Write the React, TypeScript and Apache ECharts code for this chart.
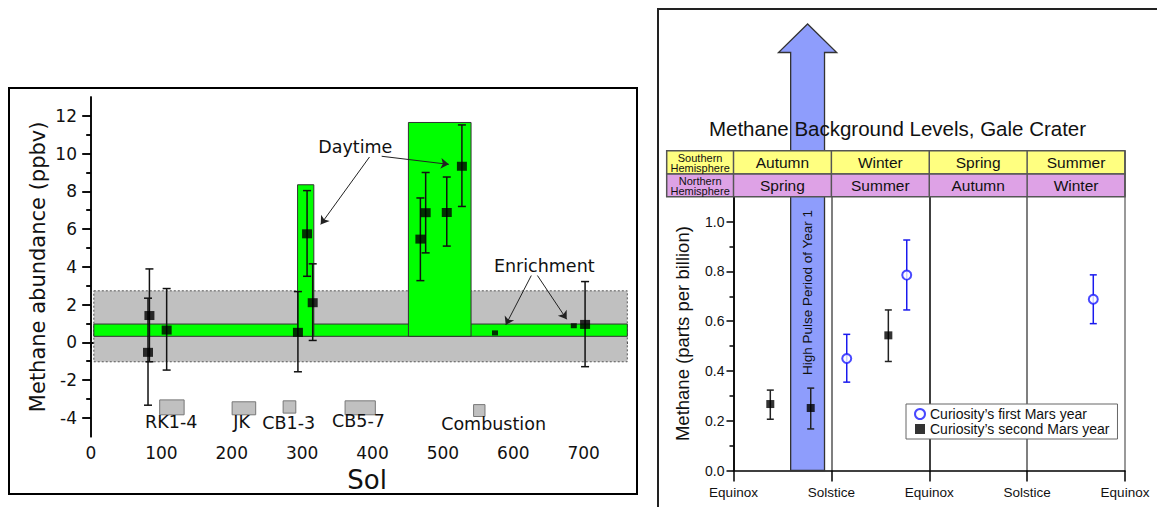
import React, { useEffect, useRef } from 'react';
import * as echarts from 'echarts';

// ---------------- Left panel data (Sol vs methane ppbv) ----------------
const solPoints = [81, 83, 107.5, 294, 307, 315, 468, 475.5, 505.5, 527, 702];
const ppbv = [-0.53, 1.42, 0.65, 0.53, 5.75, 2.1, 5.47, 6.87, 6.88, 9.33, 0.95];
const ppbvLow = [-3.33, -1.03, -1.47, -1.56, 3.5, 0.1, 3.27, 4.74, 5.1, 7.2, -1.29];
const ppbvHigh = [2.34, 3.89, 2.85, 2.69, 8.04, 4.16, 7.65, 9.0, 8.76, 11.52, 3.22];
const enrichSol = [574, 686];
const enrichPpbv = [0.5, 0.88];
const backgroundBand = [[4, 762, 0.32, 0.97]];
const uncertaintyBand = [[4, 762, -1.03, 2.73]];
const spikeBoxes = [[293.5, 316.6, 0.32, 8.35], [451, 540, 0.32, 11.65]];
const runBoxes = [
  [97.6, 132.3, -3.84, -3.05],
  [200.5, 234, -3.84, -3.15],
  [273, 291, -3.75, -3.1],
  [361, 404, -3.84, -3.1],
  [543.6, 559.8, -3.93, -3.3],
];
const annotTexts = ['RK1-4', 'JK', 'CB1-3', 'CB5-7', 'Combustion', 'Daytime', 'Enrichment'];
const annotX = [114, 214, 281, 380, 572, 375.5, 644];
const annotY = [-4.22, -4.22, -4.25, -4.18, -4.35, 10.35, 4.04];
const arrowLines = [
  [395.7, 9.82, 326.4, 6.25],
  [413, 9.86, 508.4, 9.43],
  [625.6, 3.54, 589.3, 0.92],
  [634.3, 3.54, 675.9, 1.22],
];
const leftXMajor = [0, 100, 200, 300, 400, 500, 600, 700];
const leftXMinor = [50, 150, 250, 350, 450, 550, 650, 750];
const leftYMajor = [-4, -2, 0, 2, 4, 6, 8, 10, 12];
const leftYMinor = [-3, -1, 1, 3, 5, 7, 9, 11];

// ---------------- Right panel data (season vs methane ppb) ----------------
const seasonTicks = ['Equinox', 'Solstice', 'Equinox', 'Solstice', 'Equinox'];
const southSeasons = ['Autumn', 'Winter', 'Spring', 'Summer'];
const northSeasons = ['Spring', 'Summer', 'Autumn', 'Winter'];
const year1X = [1.157, 1.77, 3.676];
const year1Y = [0.45, 0.785, 0.688];
const year1Low = [0.355, 0.645, 0.59];
const year1High = [0.547, 0.926, 0.786];
const year2X = [0.376, 0.789, 1.582];
const year2Y = [0.267, 0.251, 0.543];
const year2Low = [0.206, 0.167, 0.438];
const year2High = [0.323, 0.331, 0.645];
const pulsePeriod = [[0.584, 0.93]];
const pulseLabelY = 0.715;
const rightYMajor = [0, 0.2, 0.4, 0.6, 0.8, 1.0];
const rightYMinor = [0.1, 0.3, 0.5, 0.7, 0.9];

const LF = 'DejaVu Sans';
const RF = 'Liberation Sans, Arial, sans-serif';

// layout
const G1 = { left: 91, top: 97, width: 536.3, height: 339.7 };
const G2 = { left: 733.5, top: 196.7, width: 391.5, height: 273.8 };

function rectRender(fill: string, stroke: string, lineWidth: number, dash?: number[]) {
  return (params: any, api: any) => {
    const p0 = api.coord([api.value(0), api.value(3)]);
    const p1 = api.coord([api.value(1), api.value(2)]);
    return {
      type: 'rect',
      shape: { x: p0[0], y: p0[1], width: p1[0] - p0[0], height: p1[1] - p0[1] },
      style: { fill, stroke, lineWidth, lineDash: dash },
    };
  };
}

function errRender(stroke: string, lineWidth: number, cap: number) {
  return (params: any, api: any) => {
    const x = api.value(0);
    const lo = api.coord([x, api.value(1)]);
    const hi = api.coord([x, api.value(2)]);
    const st = { stroke, lineWidth };
    return {
      type: 'group',
      children: [
        { type: 'line', shape: { x1: lo[0], y1: lo[1], x2: hi[0], y2: hi[1] }, style: st },
        { type: 'line', shape: { x1: lo[0] - cap, y1: lo[1], x2: lo[0] + cap, y2: lo[1] }, style: st },
        { type: 'line', shape: { x1: hi[0] - cap, y1: hi[1], x2: hi[0] + cap, y2: hi[1] }, style: st },
      ],
    };
  };
}

function makeOption() {
  const black = '#000';
  const axisLine = { show: true, lineStyle: { color: black, width: 1.5 } };
  const noLabel = { show: false };

  const xAxis: any[] = [
    {
      gridIndex: 0, type: 'value', min: 0, max: 762, position: 'bottom',
      axisLine,
      axisTick: { show: true, length: 5, customValues: leftXMajor, lineStyle: { color: black, width: 1.5 } },
      axisLabel: { customValues: leftXMajor, fontFamily: LF, fontSize: 17, color: '#111', margin: 8 },
      splitLine: { show: false },
      name: 'Sol', nameLocation: 'middle', nameGap: 27,
      nameTextStyle: { fontFamily: LF, fontSize: 26, color: '#111', padding: [0, 0, 0, 16] },
    },
    {
      gridIndex: 0, type: 'value', min: 0, max: 762, position: 'bottom',
      axisLine: { show: false },
      axisTick: { show: true, length: 3, customValues: leftXMinor, lineStyle: { color: black, width: 1.5 } },
      axisLabel: noLabel, splitLine: { show: false },
    },
    {
      gridIndex: 0, type: 'value', min: 0, max: 762, position: 'top',
      axisLine,
      axisTick: { show: true, inside: true, length: 6, customValues: leftXMajor, lineStyle: { color: black, width: 1.5 } },
      axisLabel: noLabel, splitLine: { show: false },
    },
    {
      gridIndex: 0, type: 'value', min: 0, max: 762, position: 'top',
      axisLine: { show: false },
      axisTick: { show: true, inside: true, length: 3, customValues: leftXMinor, lineStyle: { color: black, width: 1.5 } },
      axisLabel: noLabel, splitLine: { show: false },
    },
    {
      gridIndex: 1, type: 'value', min: 0, max: 4, position: 'bottom',
      axisLine,
      axisTick: { show: true, length: 11, customValues: [0, 1, 2, 3, 4], lineStyle: { color: black, width: 1.5 } },
      axisLabel: {
        customValues: [0, 1, 2, 3, 4],
        formatter: (v: number) => seasonTicks[Math.round(v)] ?? '',
        fontFamily: RF, fontSize: 13.5, color: '#111', margin: 15,
      },
      splitLine: { show: true, lineStyle: { color: ['#000', '#555', '#000', '#555', '#777'], width: 1.5 } },
    },
  ];

  const yAxis: any[] = [
    {
      gridIndex: 0, type: 'value', min: -5, max: 13, position: 'left',
      axisLine,
      axisTick: { show: true, length: 8, customValues: leftYMajor, lineStyle: { color: black, width: 1.5 } },
      axisLabel: { customValues: leftYMajor, fontFamily: LF, fontSize: 17, color: '#111', margin: 14 },
      splitLine: { show: false },
      name: 'Methane abundance (ppbv)', nameLocation: 'middle', nameGap: 43,
      nameTextStyle: { fontFamily: LF, fontSize: 21, color: '#111', padding: [0, 0, 0, 0] },
    },
    {
      gridIndex: 0, type: 'value', min: -5, max: 13, position: 'left',
      axisLine: { show: false },
      axisTick: { show: true, length: 4, customValues: leftYMinor, lineStyle: { color: black, width: 1.5 } },
      axisLabel: noLabel, splitLine: { show: false },
    },
    {
      gridIndex: 0, type: 'value', min: -5, max: 13, position: 'right',
      axisLine,
      axisTick: { show: true, inside: true, length: 9, customValues: leftYMajor, lineStyle: { color: black, width: 1.5 } },
      axisLabel: noLabel, splitLine: { show: false },
    },
    {
      gridIndex: 0, type: 'value', min: -5, max: 13, position: 'right',
      axisLine: { show: false },
      axisTick: { show: true, inside: true, length: 5, customValues: leftYMinor, lineStyle: { color: black, width: 1.5 } },
      axisLabel: noLabel, splitLine: { show: false },
    },
    {
      gridIndex: 1, type: 'value', min: 0, max: 1.1, position: 'left',
      axisLine,
      axisTick: { show: true, length: 7, customValues: rightYMajor, lineStyle: { color: black, width: 1.5 } },
      axisLabel: {
        customValues: rightYMajor, formatter: (v: number) => v.toFixed(1),
        fontFamily: RF, fontSize: 14, color: '#111', margin: 9,
      },
      splitLine: { show: false },
      name: 'Methane (parts per billion)', nameLocation: 'middle', nameGap: 42,
      nameTextStyle: { fontFamily: RF, fontSize: 18.5, color: '#111' },
    },
    {
      gridIndex: 1, type: 'value', min: 0, max: 1.1, position: 'left',
      axisLine: { show: false },
      axisTick: { show: true, length: 4, customValues: rightYMinor, lineStyle: { color: black, width: 1.5 } },
      axisLabel: noLabel, splitLine: { show: false },
    },
  ];

  const L = { xAxisIndex: 0, yAxisIndex: 0 };
  const R = { xAxisIndex: 4, yAxisIndex: 4 };

  const series: any[] = [
    {
      type: 'custom', name: 'uncertainty', ...L, z: 1, silent: true,
      encode: { x: [0, 1], y: [2, 3] },
      data: uncertaintyBand,
      renderItem: rectRender('#c0c0c0', '#555', 1, [2, 2]),
    },
    {
      type: 'custom', name: 'background', ...L, z: 2, silent: true,
      encode: { x: [0, 1], y: [2, 3] },
      data: backgroundBand,
      renderItem: rectRender('#00ff00', '#333', 1),
    },
    {
      type: 'custom', name: 'spikes', ...L, z: 3, silent: true,
      encode: { x: [0, 1], y: [2, 3] },
      data: spikeBoxes,
      renderItem: rectRender('#00ff00', '#333', 1),
    },
    {
      type: 'custom', name: 'runs', ...L, z: 3, silent: true,
      encode: { x: [0, 1], y: [2, 3] },
      data: runBoxes,
      renderItem: rectRender('#c0c0c0', '#777', 1),
    },
    {
      type: 'custom', name: 'errLeft', ...L, z: 4, silent: true,
      encode: { x: 0, y: [1, 2] },
      data: solPoints.map((s, i) => [s, ppbvLow[i], ppbvHigh[i]]),
      renderItem: errRender('#111', 1.5, 4),
    },
    {
      type: 'scatter', name: 'measurements', ...L, z: 5, silent: true,
      symbol: 'rect', symbolSize: [10, 9],
      itemStyle: { color: '#000' },
      data: solPoints.map((s, i) => [s, ppbv[i]]),
    },
    {
      type: 'scatter', name: 'enrichment', ...L, z: 5, silent: true,
      symbol: 'rect', symbolSize: [6, 5],
      itemStyle: { color: '#000' },
      data: enrichSol.map((s, i) => [s, enrichPpbv[i]]),
      markLine: {
        silent: true, symbol: ['none', 'arrow'], symbolSize: 8, animation: false,
        lineStyle: { color: '#222', width: 1, type: 'solid' },
        label: { show: false },
        emphasis: { disabled: true },
        data: arrowLines.map((a) => [{ coord: [a[0], a[1]] }, { coord: [a[2], a[3]] }]),
      },
    },
    {
      type: 'custom', name: 'annotations', ...L, z: 6, silent: true,
      encode: { x: 0, y: 1 },
      data: annotX.map((x, i) => [x, annotY[i]]),
      renderItem: (params: any, api: any) => {
        const p = api.coord([api.value(0), api.value(1)]);
        return {
          type: 'text', x: p[0], y: p[1],
          style: {
            text: annotTexts[params.dataIndex], fontFamily: LF, fontSize: 17.5, fill: '#111',
            align: 'center', verticalAlign: 'middle',
          },
        };
      },
    },
    // ---------- right panel ----------
    {
      type: 'custom', name: 'pulse', ...R, z: 1, silent: true, clip: false,
      encode: { x: [0, 1] },
      data: pulsePeriod,
      renderItem: (params: any, api: any) => {
        const a = api.coord([api.value(0), 0]);
        const b = api.coord([api.value(1), 0]);
        const t = api.coord([api.value(0), pulseLabelY]);
        const headBase = 52.5;
        const tip = 24;
        const ext = 12.2;
        const cx = (a[0] + b[0]) / 2;
        return {
          type: 'group',
          children: [
            {
              type: 'polygon',
              shape: {
                points: [
                  [a[0], a[1]], [a[0], headBase], [a[0] - ext, headBase], [cx, tip],
                  [b[0] + ext, headBase], [b[0], headBase], [b[0], b[1]],
                ],
              },
              style: { fill: '#8e9dfc', stroke: '#333', lineWidth: 1.3 },
            },
            {
              type: 'text', x: cx, y: t[1], rotation: Math.PI / 2,
              style: {
                text: 'High Pulse Period of Year 1', fontFamily: RF, fontSize: 13.5, fill: '#111',
                align: 'center', verticalAlign: 'middle',
              },
            },
          ],
        };
      },
    },
    {
      type: 'custom', name: 'errYear2', ...R, z: 3, silent: true,
      encode: { x: 0, y: [1, 2] },
      data: year2X.map((x, i) => [x, year2Low[i], year2High[i]]),
      renderItem: errRender('#222', 1.5, 3.5),
    },
    {
      type: 'custom', name: 'errYear1', ...R, z: 3, silent: true,
      encode: { x: 0, y: [1, 2] },
      data: year1X.map((x, i) => [x, year1Low[i], year1High[i]]),
      renderItem: errRender('#1a1aee', 1.5, 3.5),
    },
    {
      type: 'scatter', name: 'Curiosity’s first Mars year', ...R, z: 4, silent: true,
      symbol: 'emptyCircle', symbolSize: 9,
      itemStyle: { color: '#1a1aff', borderColor: '#1a1aff', borderWidth: 2 },
      data: year1X.map((x, i) => [x, year1Y[i]]),
    },
    {
      type: 'scatter', name: 'Curiosity’s second Mars year', ...R, z: 4, silent: true,
      symbol: 'rect', symbolSize: 8,
      itemStyle: { color: '#000' },
      data: year2X.map((x, i) => [x, year2Y[i]]),
    },
  ];

  // table + decorations
  const colW = G2.width / 4;
  const tLeft = 666.7;
  const r1 = 150.7, r2 = 174, r3 = G2.top;
  const tableEls: any[] = [];
  const cellStroke = { stroke: '#555', lineWidth: 1.5 };
  tableEls.push({ type: 'rect', shape: { x: tLeft, y: r1, width: G2.left + G2.width - tLeft, height: r2 - r1 }, style: { fill: '#ffff80', ...cellStroke }, z: 50 });
  tableEls.push({ type: 'rect', shape: { x: tLeft, y: r2, width: G2.left + G2.width - tLeft, height: r3 - r2 }, style: { fill: '#dea2e6', ...cellStroke }, z: 50 });
  for (let i = 0; i <= 4; i++) {
    const x = G2.left + i * colW;
    tableEls.push({ type: 'line', shape: { x1: x, y1: r1, x2: x, y2: r3 }, style: cellStroke, z: 51 });
  }
  const labelCx = (tLeft + G2.left) / 2;
  tableEls.push({ type: 'text', x: labelCx, y: (r1 + r2) / 2 + 0.5, z: 52, style: { text: 'Southern\nHemisphere', fontFamily: RF, fontSize: 11, lineHeight: 10.5, fill: '#111', align: 'center', verticalAlign: 'middle' } });
  tableEls.push({ type: 'text', x: labelCx, y: (r2 + r3) / 2 + 0.5, z: 52, style: { text: 'Northern\nHemisphere', fontFamily: RF, fontSize: 11, lineHeight: 10.5, fill: '#111', align: 'center', verticalAlign: 'middle' } });
  southSeasons.forEach((s, i) => {
    tableEls.push({ type: 'text', x: G2.left + (i + 0.5) * colW, y: (r1 + r2) / 2 + 0.5, z: 52, style: { text: s, fontFamily: RF, fontSize: 15.5, fill: '#111', align: 'center', verticalAlign: 'middle' } });
  });
  northSeasons.forEach((s, i) => {
    tableEls.push({ type: 'text', x: G2.left + (i + 0.5) * colW, y: (r2 + r3) / 2 + 0.5, z: 52, style: { text: s, fontFamily: RF, fontSize: 15.5, fill: '#111', align: 'center', verticalAlign: 'middle' } });
  });

  return {
    animation: false,
    backgroundColor: '#fff',
    grid: [
      { ...G1, containLabel: false },
      { ...G2, containLabel: false },
    ],
    xAxis,
    yAxis,
    legend: {
      data: ['Curiosity’s first Mars year', 'Curiosity’s second Mars year'],
      left: 906, top: 404, orient: 'vertical',
      padding: [3, 8, 3, 8], itemGap: 1, itemWidth: 10, itemHeight: 10,
      backgroundColor: '#fff', borderColor: '#666', borderWidth: 1,
      textStyle: { fontFamily: RF, fontSize: 14, color: '#111' },
      selectedMode: false,
    },
    graphic: {
      elements: [
        { type: 'rect', shape: { x: 9, y: 88, width: 628, height: 406 }, style: { fill: 'none', stroke: '#000', lineWidth: 2 }, z: 60 },
        { type: 'rect', shape: { x: 658, y: 9, width: 530, height: 530 }, style: { fill: 'none', stroke: '#222', lineWidth: 2 }, z: 60 },
        { type: 'text', x: 897.5, y: 128, z: 60, style: { text: 'Methane Background Levels, Gale Crater', fontFamily: RF, fontSize: 20.5, fill: '#111', align: 'center', verticalAlign: 'middle' } },
        ...tableEls,
      ],
    },
    series,
  };
}

export default function App() {
  const ref = useRef<HTMLDivElement>(null);
  useEffect(() => {
    if (!ref.current) return;
    const chart = echarts.init(ref.current, undefined, { renderer: 'svg' });
    chart.setOption(makeOption() as any);
    return () => chart.dispose();
  }, []);
  return (
    <div
      ref={ref}
      style={{ position: 'absolute', left: 0, top: 0, width: 1157, height: 507 }}
    />
  );
}
